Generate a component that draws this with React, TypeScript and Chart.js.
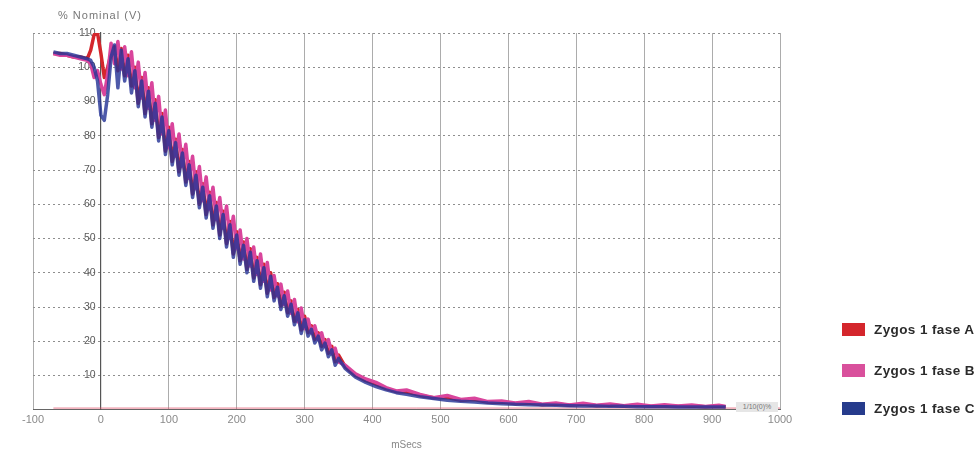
import React, { useEffect, useRef } from "react";
import { Chart, registerables } from "chart.js";

Chart.register(...registerables);

// time axis (ms) shared by the three phases
const timeMs = [
  -70, -60, -50, -40, -30, -20, -15, -10, -5, 0, 5, 10,
  15, 20, 25, 30, 35, 40, 45,
  50, 55, 60, 65, 70, 75, 80, 85, 90, 95, 100,
  105, 110, 115, 120, 125, 130, 135, 140, 145, 150, 155, 160, 165, 170, 175, 180, 185, 190, 195, 200,
  205, 210, 215, 220, 225, 230, 235, 240, 245, 250,
  255, 260, 265, 270, 275, 280, 285, 290, 295, 300,
  305, 310, 315, 320, 325, 330, 335, 340, 345, 350,
  360, 375, 390, 405, 420, 435, 450, 470, 490, 510, 530, 550, 570, 590, 610, 630,
  650, 670, 690, 710, 730, 750, 770, 790, 810, 830, 850, 870, 890, 910, 920,
];

// % nominal, phase A (red)
const faseA = [
  104, 104, 103.5, 103, 103, 102.5, 105, 109.5, 110, 104, 97, 100,
  104, 106, 99, 105.5, 97.5, 103.5, 94.5,
  100, 89.5, 97, 86.5, 94, 83.5, 90.5, 79.5, 86.5, 75.5, 82.5,
  72.5, 79, 69.5, 76, 66.5, 72.5, 63, 69.5, 60, 66, 57, 63.5, 54, 60.5, 51, 58, 48.5, 55, 45.5, 52,
  43.5, 49, 41, 47, 38.5, 44.5, 36.5, 42.5, 34, 40,
  32.8, 36.8, 30.3, 34.3, 28.3, 31.8, 25.8, 29.3, 23.3, 27.3,
  22.5, 24.5, 20.5, 22.5, 18.5, 20.5, 16.5, 18.5, 14, 16,
  12.5, 10, 8.5, 7.5, 6.2, 5.3, 5.2, 4.2, 3.5, 3.6, 2.8, 3, 2.2, 2.3, 1.8, 2,
  1.5, 1.7, 1.3, 1.6, 1.2, 1.4, 1.1, 1.3, 1, 1.2, 1, 1.1, 0.9, 1, 0.9,
];

// % nominal, phase B (pink)
const faseB = [
  104, 103.5, 103.5, 103, 102.5, 102, 101, 97, 99, 95, 92, 98,
  107, 101, 107.5, 99.5, 106, 97.5, 104.5,
  94, 101.5, 91, 98.5, 88, 95.5, 84.5, 91.5, 80.5, 87.5, 76.5,
  83.5, 74, 80.5, 71, 77.5, 67.5, 74, 64.5, 71, 61, 68, 58.5, 65, 55.5, 62, 53, 59.5, 50, 56.5, 47,
  52.5, 44, 50, 42, 47.5, 39.5, 45.5, 37.5, 43, 35,
  39.2, 33.2, 36.7, 30.7, 34.7, 28.2, 32.2, 25.7, 29.7, 23.7,
  26.5, 22.5, 24.5, 20.5, 22.5, 18.5, 20.5, 16.5, 18, 14,
  13, 10.5, 9, 8, 6.5, 5.5, 5.8, 4.5, 3.5, 4.2, 3, 3.4, 2.4, 2.6, 2, 2.4,
  1.6, 2, 1.4, 1.9, 1.3, 1.7, 1.2, 1.6, 1.1, 1.5, 1.1, 1.4, 1, 1.3, 1,
];

// % nominal, phase C (blue)
const faseC = [
  104.5, 104, 104, 103.5, 103, 102.5, 102, 100, 96, 86, 84.5, 92,
  103, 106.5, 94, 105, 96, 102.5, 92.5,
  99, 88.5, 96, 85.5, 93, 82.5, 89.5, 78.5, 85.5, 74.5, 81.5,
  71.5, 78, 68.5, 75, 65.5, 71.5, 62, 68.5, 59, 65, 56, 62.5, 53, 59.5, 50, 57, 47.5, 54, 44.5, 51,
  42.5, 48, 40, 46, 37.5, 43.5, 35.5, 41.5, 33, 39,
  31.8, 35.8, 29.3, 33.3, 27.3, 30.8, 24.8, 28.3, 22.3, 26.3,
  21.5, 23.5, 19.5, 21.5, 17.5, 19.5, 15.5, 17.5, 13, 15,
  12, 9.5, 8, 6.8, 5.8, 5, 4.5, 3.8, 3.3, 2.8, 2.5, 2.3, 2, 1.8, 1.6, 1.5,
  1.4, 1.3, 1.2, 1.1, 1.1, 1, 1, 0.9, 0.9, 0.9, 0.8, 0.8, 0.8, 0.8, 0.8,
];

// thin reference trace near zero
const baselineMs = [-70, 1000];
const baselineVal = [0.5, 0.5];

const seriesNames = ["Zygos 1 fase A", "Zygos 1 fase B", "Zygos 1 fase C"];
const xMin = -100;
const xMax = 1000;
const xStep = 100;
const yMin = 0;
const yMax = 110;
const yStep = 10;
const yAxisTitle = "% Nominal (V)";
const xAxisTitle = "mSecs";
const noteText = "1/10(0)%";

const COLORS = ["#d4262c", "#d9509c", "#263b8c"];
const LINE_COLORS = ["#d4262c", "#d9459c", "rgba(38,52,150,0.82)"];

const toPoints = (xs: number[], ys: number[]) => xs.map((x, i) => ({ x, y: ys[i] }));

export default function App() {
  const ref = useRef<HTMLCanvasElement | null>(null);

  useEffect(() => {
    if (!ref.current) return;
    const line = (label: string, data: any, color: string, width: number) => ({
      label,
      data,
      borderColor: color,
      borderWidth: width,
      pointRadius: 0,
      tension: 0,
      borderJoinStyle: "round" as const,
    });
    const chart = new Chart(ref.current, {
      type: "line",
      data: {
        datasets: [
          line(seriesNames[2], toPoints(timeMs, faseC), LINE_COLORS[2], 3.5),
          line(seriesNames[1], toPoints(timeMs, faseB), LINE_COLORS[1], 3.5),
          line(seriesNames[0], toPoints(timeMs, faseA), LINE_COLORS[0], 3.5),
          line("ref", toPoints(baselineMs, baselineVal), "rgba(225,80,105,0.75)", 1),
        ],
      },
      options: {
        responsive: false,
        animation: false,
        parsing: false as any,
        layout: { padding: { left: 33, right: 197, top: 33, bottom: 0 } },
        plugins: {
          legend: { display: false },
          tooltip: { enabled: false },
          title: { display: false },
        },
        scales: {
          x: {
            type: "linear",
            min: xMin,
            max: xMax,
            ticks: {
              stepSize: xStep,
              padding: 4,
              color: "#8a8a8a",
              font: { family: "Arial, 'Liberation Sans'", size: 11 },
              maxRotation: 0,
              callback: (v: any) => String(v),
            },
            grid: { color: "#acacac", lineWidth: 1, drawTicks: false },
            border: { display: true, color: "#666", width: 1 },
            title: {
              display: true,
              text: xAxisTitle,
              color: "#888",
              font: { family: "Arial, 'Liberation Sans'", size: 10 },
              padding: { top: 8, bottom: 0 },
            },
          },
          y: {
            type: "linear",
            min: yMin,
            max: yMax,
            position: { x: 0 } as any,
            ticks: {
              stepSize: yStep,
              color: "#5a5a5a",
              font: { family: "Arial, 'Liberation Sans'", size: 10.5 },
              callback: (v: any) => (Number(v) === 0 ? "" : String(v) + "\u2002"),
            },
            grid: { color: "#8e8e8e", lineWidth: 1, drawTicks: false },
            border: { display: true, color: "#555", width: 1.2, dash: [2, 3] },
          },
        },
      },
    });
    return () => chart.destroy();
  }, []);

  const legendTops = [323, 364, 402];

  return (
    <div
      style={{
        position: "absolute",
        left: 0,
        top: 0,
        width: 977,
        height: 451,
        background: "#fff",
        overflow: "hidden",
        fontFamily: "Arial, 'Liberation Sans', sans-serif",
      }}
    >
      <canvas ref={ref} width={977} height={451} style={{ position: "absolute", left: 0, top: 0 }} />
      <div
        style={{
          position: "absolute",
          left: 58,
          top: 9,
          fontSize: 11,
          letterSpacing: 1,
          color: "#777",
          whiteSpace: "nowrap",
        }}
      >
        {yAxisTitle}
      </div>
      <div
        style={{
          position: "absolute",
          left: 736,
          top: 402,
          width: 42,
          height: 10,
          background: "#e6e6e6",
          color: "#777",
          fontSize: 7,
          lineHeight: "10px",
          textAlign: "center",
          whiteSpace: "nowrap",
        }}
      >
        {noteText}
      </div>
      {seriesNames.map((name, i) => (
        <div
          key={name}
          style={{ position: "absolute", left: 842, top: legendTops[i], height: 13, display: "flex", alignItems: "center" }}
        >
          <div style={{ width: 23, height: 13, background: COLORS[i] }} />
          <div
            style={{
              marginLeft: 9,
              fontSize: 13.5,
              fontWeight: "bold",
              letterSpacing: 0.4,
              color: "#2b2b2b",
              whiteSpace: "nowrap",
              lineHeight: "13px",
            }}
          >
            {name}
          </div>
        </div>
      ))}
    </div>
  );
}
